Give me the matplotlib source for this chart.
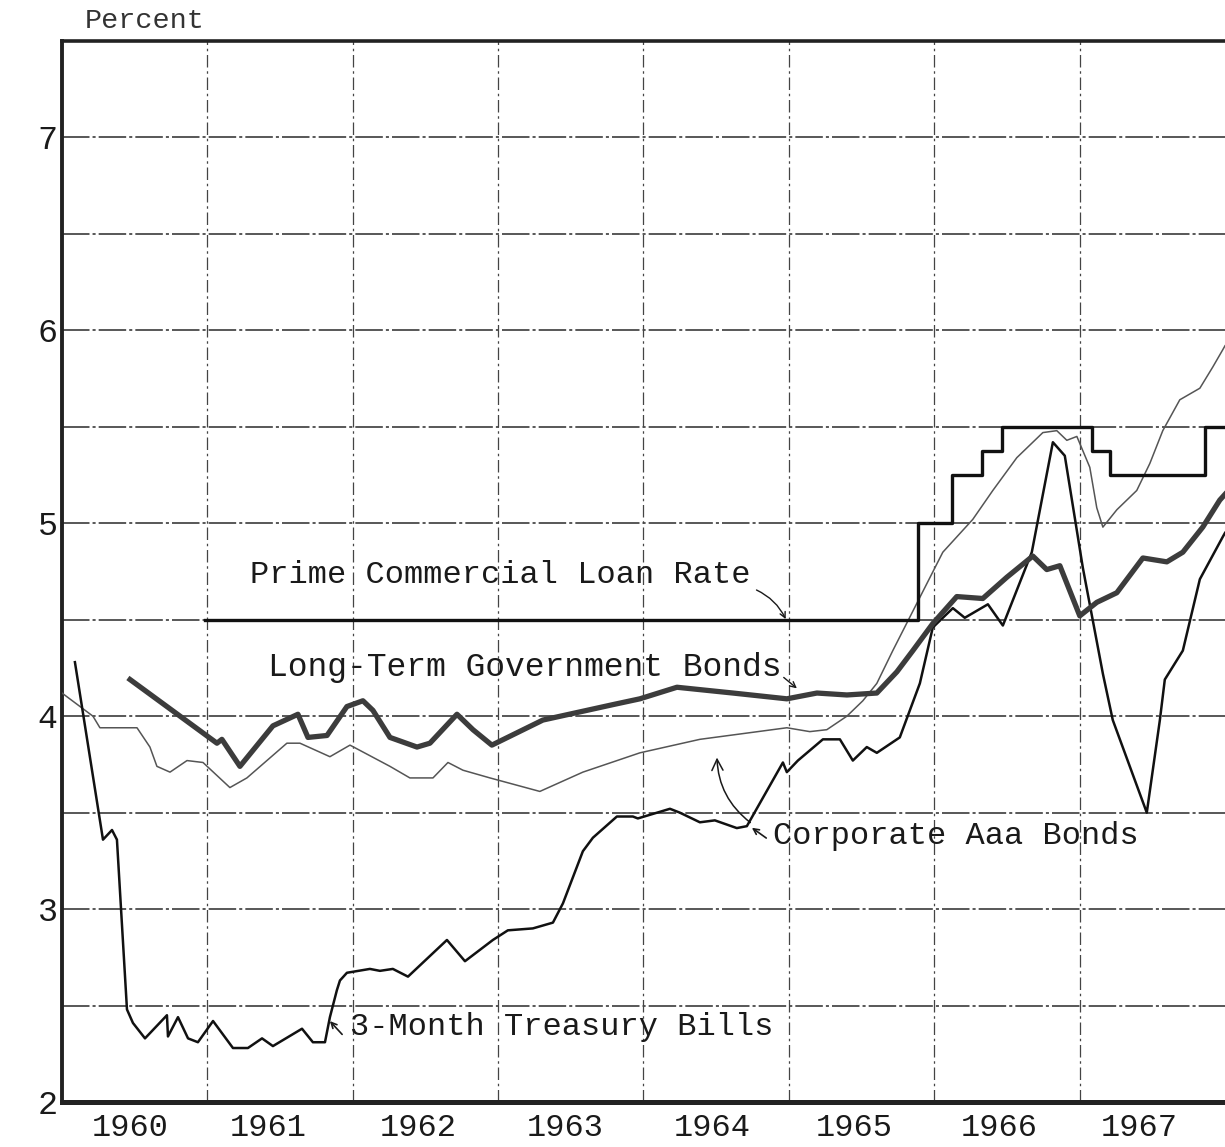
import numpy as np
import matplotlib.pyplot as plt

# ---- data (year, percent) ----
bill_x = [1960.089, 1960.282, 1960.344, 1960.378, 1960.447, 1960.488, 1960.571, 1960.722, 1960.729,
          1960.798, 1960.867, 1960.935, 1961.039, 1961.176, 1961.279, 1961.376, 1961.451, 1961.651,
          1961.726, 1961.809, 1961.843, 1961.891, 1961.912, 1961.960, 1962.118, 1962.187, 1962.276,
          1962.380, 1962.648, 1962.772, 1962.964, 1963.067, 1963.239, 1963.377, 1963.446, 1963.583,
          1963.652, 1963.817, 1963.927, 1963.961, 1964.182, 1964.250, 1964.388, 1964.491, 1964.642,
          1964.711, 1964.959, 1964.986, 1965.062, 1965.234, 1965.351, 1965.440, 1965.536, 1965.605,
          1965.763, 1965.901, 1965.990, 1966.128, 1966.210, 1966.369, 1966.472, 1966.671, 1966.816,
          1966.898, 1967.022, 1967.160, 1967.228, 1967.462, 1967.552, 1967.586, 1967.710, 1967.827,
          1967.985, 1968.0]
bill_y = [4.28, 3.36, 3.41, 3.36, 2.48, 2.41, 2.33, 2.45, 2.34,
          2.44, 2.33, 2.31, 2.42, 2.28, 2.28, 2.33, 2.29, 2.38,
          2.31, 2.31, 2.44, 2.58, 2.63, 2.67, 2.69, 2.68, 2.69,
          2.65, 2.84, 2.73, 2.84, 2.89, 2.90, 2.93, 3.03, 3.30,
          3.37, 3.48, 3.48, 3.47, 3.52, 3.50, 3.45, 3.46, 3.42,
          3.43, 3.76, 3.71, 3.77, 3.88, 3.88, 3.77, 3.84, 3.81,
          3.89, 4.17, 4.46, 4.56, 4.51, 4.58, 4.47, 4.85, 5.42,
          5.35, 4.77, 4.22, 3.98, 3.50, 3.98, 4.19, 4.34, 4.71,
          4.93, 4.95]

corp_x = [1960.0, 1960.213, 1960.261, 1960.516, 1960.605, 1960.653, 1960.743, 1960.860, 1960.970,
          1961.155, 1961.272, 1961.547, 1961.637, 1961.843, 1961.981, 1962.256, 1962.393, 1962.552,
          1962.655, 1962.758, 1962.944, 1963.287, 1963.583, 1963.975, 1964.388, 1964.986, 1965.144,
          1965.261, 1965.399, 1965.509, 1965.605, 1965.715, 1966.059, 1966.265, 1966.403, 1966.568,
          1966.747, 1966.843, 1966.912, 1966.981, 1967.070, 1967.118, 1967.160, 1967.256, 1967.393,
          1967.483, 1967.572, 1967.689, 1967.827, 1967.916, 1967.985, 1968.0]
corp_y = [4.12, 4.00, 3.94, 3.94, 3.84, 3.74, 3.71, 3.77, 3.76,
          3.63, 3.68, 3.86, 3.86, 3.79, 3.85, 3.74, 3.68, 3.68,
          3.76, 3.72, 3.68, 3.61, 3.71, 3.81, 3.88, 3.94, 3.92,
          3.93, 4.00, 4.08, 4.17, 4.34, 4.85, 5.02, 5.17, 5.34,
          5.47, 5.48, 5.43, 5.45, 5.29, 5.08, 4.98, 5.07, 5.17,
          5.31, 5.48, 5.64, 5.70, 5.81, 5.90, 5.92]

govt_x = [1960.468, 1961.066, 1961.100, 1961.224, 1961.451, 1961.623, 1961.692, 1961.823, 1961.960,
          1962.070, 1962.139, 1962.256, 1962.442, 1962.531, 1962.717, 1962.827, 1962.957, 1963.308,
          1963.790, 1963.975, 1964.230, 1964.615, 1964.986, 1965.193, 1965.399, 1965.605, 1965.743,
          1965.853, 1965.990, 1966.155, 1966.334, 1966.499, 1966.678, 1966.774, 1966.864, 1967.001,
          1967.118, 1967.256, 1967.435, 1967.600, 1967.710, 1967.847, 1967.964, 1968.0]
govt_y = [4.19, 3.86, 3.88, 3.74, 3.95, 4.01, 3.89, 3.90, 4.05,
          4.08, 4.03, 3.89, 3.84, 3.86, 4.01, 3.93, 3.85, 3.98,
          4.06, 4.09, 4.15, 4.12, 4.09, 4.12, 4.11, 4.12, 4.23,
          4.34, 4.48, 4.62, 4.61, 4.72, 4.83, 4.76, 4.78, 4.52,
          4.59, 4.64, 4.82, 4.80, 4.85, 4.98, 5.12, 5.15]

prime_x = [1960.983, 1965.887, 1966.121, 1966.327, 1966.465, 1967.084, 1967.208, 1967.861, 1968.0]
prime_y = [4.5, 5.0, 5.25, 5.375, 5.5, 5.375, 5.25, 5.5, 5.5]

year_labels = ['1960', '1961', '1962', '1963', '1964', '1965', '1966', '1967']
year_label_pos = [1960.47, 1961.42, 1962.45, 1963.46, 1964.47, 1965.45, 1966.45, 1967.41]
pct_ticks = [2, 3, 4, 5, 6, 7]

TYPE = 'Liberation Mono'
INK = '#1a1a1a'

fig = plt.figure(figsize=(12.25, 11.47), dpi=100)
ax = fig.add_axes([0.0506, 0.0392, 0.9494, 0.9251])
ax.set_xlim(1960, 1968)
ax.set_ylim(2, 7.5)

# ruled grid, dash-dot look of the original
for v in np.arange(2.5, 7.5, 0.5):
    ax.axhline(v, color='#2a2a2a', lw=1.1, ls=(0, (18, 2, 2, 2)), zorder=1)
for yr in range(1961, 1968):
    ax.axvline(yr, color='#444444', lw=0.9, ls=(0, (10, 3, 2, 3)), zorder=1)

# series
ax.plot(corp_x, corp_y, color='#555555', lw=1.1, zorder=3)
ax.plot(bill_x, bill_y, color='#111111', lw=1.8, zorder=4)
ax.plot(govt_x, govt_y, color='#3c3c3c', lw=3.8, solid_joinstyle='round', zorder=5)
ax.plot(prime_x, prime_y, color='#111111', lw=2.4, drawstyle='steps-post', zorder=4)

# frame
for s in ['left', 'top', 'bottom']:
    ax.spines[s].set_color('#222222')
ax.spines['left'].set_linewidth(2.8)
ax.spines['top'].set_linewidth(2.6)
ax.spines['bottom'].set_linewidth(3.6)
ax.spines['right'].set_visible(False)

ax.set_yticks(pct_ticks)
ax.set_yticklabels([str(t) for t in pct_ticks], fontfamily=TYPE, fontsize=24, color=INK)
ax.set_xticks(year_label_pos)
ax.set_xticklabels(year_labels, fontfamily=TYPE, fontsize=23, color=INK)
ax.tick_params(axis='both', length=0)
ax.tick_params(axis='y', pad=3)
ax.tick_params(axis='x', pad=8)

fig.text(0.069, 0.982, 'Percent', fontfamily=TYPE, fontsize=20.5, color='#333333', va='center')

# typed labels with hand-drawn arrows
txt = dict(fontfamily=TYPE, fontsize=23, color=INK, va='center', zorder=6)
ax.text(1961.29, 4.73, 'Prime Commercial Loan Rate', **txt)
ax.annotate('', xy=(1964.986, 4.49), xytext=(1964.76, 4.66),
            arrowprops=dict(arrowstyle='->', color=INK, lw=1.0, connectionstyle='arc3,rad=-0.2'))

ax.text(1961.42, 4.25, 'Long-Term Government Bonds', fontfamily=TYPE, fontsize=23.8,
        color=INK, va='center', zorder=6)
ax.annotate('', xy=(1965.07, 4.135), xytext=(1964.95, 4.21),
            arrowprops=dict(arrowstyle='->', color=INK, lw=1.0))

ax.text(1964.89, 3.38, 'Corporate Aaa Bonds', **txt)
ax.annotate('', xy=(1964.73, 3.43), xytext=(1964.86, 3.36),
            arrowprops=dict(arrowstyle='->', color=INK, lw=1.2))
ax.annotate('', xy=(1964.505, 3.80), xytext=(1964.75, 3.44),
            arrowprops=dict(arrowstyle='->', color=INK, lw=1.1, connectionstyle='arc3,rad=-0.25',
                            mutation_scale=20))

ax.text(1961.98, 2.39, '3-Month Treasury Bills', **txt)
ax.annotate('', xy=(1961.83, 2.43), xytext=(1961.94, 2.34),
            arrowprops=dict(arrowstyle='->', color=INK, lw=1.2))

fig.savefig('out.png', dpi=100)
